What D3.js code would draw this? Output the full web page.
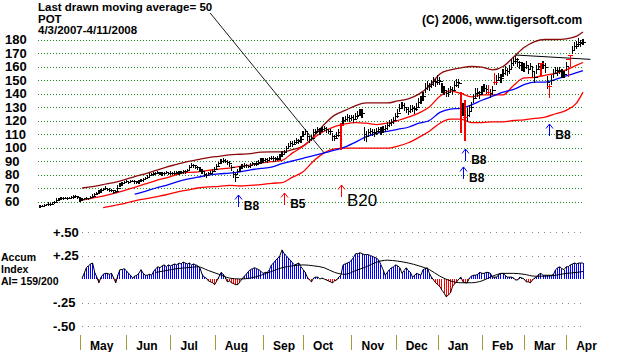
<!DOCTYPE html>
<html>
<head>
<meta charset="utf-8">
<script src="https://cdn.jsdelivr.net/npm/d3@7"></script>
<style>
  body { margin: 0; background: #fff; }
  svg { display: block; font-family: "Liberation Sans", Arial, sans-serif; }
  .b { font-weight: bold; }
</style>
</head>
<body>
<svg id="chart" width="620" height="352"></svg>
<script>
// ---- tick labels / calendar ----
var priceTicks = [180, 170, 160, 150, 140, 130, 120, 110, 100, 90, 80, 70, 60];
var aiTicks = [0.5, 0.25, -0.25, -0.5];
var aiTickLabels = ["+.50", "+.25", "-.25", "-.50"];
var monthNames = ["Jan", "Feb", "Mar", "Apr", "May", "Jun", "Jul", "Aug", "Sep", "Oct", "Nov", "Dec"];
var holidays = ["2007-04-06", "2007-05-28", "2007-07-04", "2007-09-03", "2007-11-22",
                "2007-12-25", "2008-01-01", "2008-01-21", "2008-02-18", "2008-03-21"];
var aiCaption = ["Accum", "Index", "AI= 159/200"];

// ---- daily closes (POT, 4/3/2007 - 4/11/2008) ----
var closes = [
  56, 56.5, 57, 57.5, 58, 58, 59, 59.5, 61, 61.5, 62.5, 62, 62.5, 62, 62.5, 63, 63.5, 64, 63,            // apr
  61, 61.5, 62, 62.5, 62, 63, 64, 65, 66, 67, 68, 69, 70, 69, 68.5, 68, 67, 67.5, 70, 72, 73.5, 74,      // may
  74.5, 74, 74.5, 75, 74.5, 74, 74.5, 75.5, 76, 77, 78, 79.5, 80, 80.5, 81, 81.5, 81, 80.5, 81, 81.5, 81, // jun
  81, 80.5, 81, 81.5, 81, 81.5, 82, 82, 83, 85, 87, 86.5, 85.5, 85, 84, 82, 80, 79.5, 80.5, 81, 82.5,    // jul
  84, 86, 88, 89.5, 90.5, 90, 89, 88, 85, 80, 78, 82, 84.5, 86, 87, 86.5, 86, 87, 88, 87.5, 88, 89, 90, // aug
  90.5, 91, 90.5, 91.5, 92, 91.5, 91, 92, 93, 95, 96, 99, 101, 103, 102.5, 104, 105, 104.5, 106,        // sep
  110, 111.5, 108, 106, 107, 111, 112, 113, 112, 113.5, 114, 113, 112, 111.5, 108, 107, 109, 111, 116, 120, 121, 122, 121.5, // oct
  122, 121, 123, 124, 126, 125, 110, 108, 111, 112, 111, 110.5, 112, 113, 112, 113.5, 114, 116, 118, 118.5, 120, // nov
  123, 125, 129, 131, 130, 128, 127, 128.5, 129, 128, 130, 133, 135, 138, 144, 146, 145, 147, 149, 148,  // dec
  150, 149, 144, 142, 140, 141, 143, 142, 146, 148, 147.5, 140, 128, 122, 124, 127, 130, 136, 140, 141, 139, // jan
  142, 144, 143, 141, 140, 142, 148, 150, 152, 151, 155, 157, 156, 158, 162, 164, 165, 163, 161, 160,    // feb
  159, 161, 158, 160, 156, 152, 158, 160, 162, 161, 159, 148, 145, 150, 155, 157, 156, 157, 155, 154,    // mar
  160, 165, 168, 172, 175, 176, 178, 177, 178                                                          // apr
];
// daily high-low range
var ranges = [
  1.5, 1, 1.5, 1, 2, 1.5, 1, 1.5, 2, 1.5, 1, 1.5, 1, 1.5, 1, 1.5, 2, 1.5, 2,
  2, 1.5, 1, 1.5, 1, 1.5, 2, 1.5, 1.5, 2, 1.5, 2, 2.5, 1.5, 2, 1.5, 2, 1.5, 3, 2, 1.5, 2,
  1.5, 2, 1.5, 1, 2, 1.5, 2, 1.5, 2, 1.5, 2, 2.5, 1.5, 2, 1.5, 2, 1.5, 2, 1.5, 2, 1.5,
  2, 1.5, 2, 1.5, 2, 1.5, 2, 2.5, 2, 3, 3, 2.5, 2, 2.5, 3, 3, 2.5, 3, 2, 2.5, 2,
  3, 3, 2.5, 3, 2.5, 2, 3, 3.5, 4, 5, 6, 4, 3, 2.5, 3, 2.5, 2, 3, 2.5, 2, 3, 2.5, 3,
  2.5, 2, 3, 2.5, 2, 3, 2.5, 3, 3.5, 4, 3, 4, 3.5, 3, 4, 3, 3.5, 3, 4,
  4, 3.5, 5, 4, 3.5, 4, 3, 3.5, 4, 3, 3.5, 4, 3, 3.5, 5, 4, 4.5, 5, 6, 5, 4, 4.5, 4,
  4, 5, 4, 5, 5, 6, 9, 7, 5, 4.5, 4, 5, 4.5, 4, 5, 4.5, 4, 5, 4.5, 5, 5,
  5, 6, 5, 4.5, 5, 4, 5, 4.5, 4, 5, 5.5, 6, 5, 6, 7, 6, 5, 5.5, 6, 5,
  6, 5, 7, 6, 5, 6, 5, 5.5, 6, 5, 6, 7, 9, 12, 10, 8, 7, 6, 7, 6, 5,
  6, 5, 6, 5, 6, 6, 7, 6, 5, 6, 5, 6, 5, 6, 7, 6, 5, 6, 5, 6,
  6, 5, 6, 5, 7, 8, 6, 5, 6, 5, 7, 9, 8, 7, 6, 5, 6, 5, 6, 5,
  6, 7, 6, 5, 6, 5, 6, 5, 4
];
// wide-range days painted red
var redBars = [
  {day: 143, lo: 98, hi: 118}, {day: 200, lo: 111, hi: 141}, {day: 202, lo: 105, hi: 135},
  {day: 213, lo: 139, hi: 146}, {day: 216, lo: 146, hi: 155}, {day: 238, lo: 153, hi: 162},
  {day: 242, lo: 137, hi: 147}, {day: 251, lo: 152, hi: 160}, {day: 252, lo: 160, hi: 168}
];

// ---- bands, sampled every 5 trading days (last = final day) ----
var upperBand = [null, null, null, null,
  70, 71, 72.5, 74, 76, 78.5, 80.5, 83, 85.5, 87.5, 89.5, 91, 92.5, 93.5, 94.5, 95, 95.5, 96.5, 96.7, 96.7,
  98.5, 101, 108, 117, 124, 127.5, 131, 133, 133, 133, 134.5, 136, 139.5, 145.5, 154.5, 157.5, 159, 160,
  159.5, 157.5, 160, 167, 174, 178.5, 180, 180, 180.5, 182.5, 185.5];
var innerBand = [null, null, null, null,
  61, 62.5, 64, 66, 68, 70.5, 73, 75.5, 77.5, 80, 81.5, 82, 83, 84, 84.8, 86, 87, 88.5, 89.5, 90.5,
  96, 101, 107, 112, 115.5, 117.5, 118.5, 118, 117, 118, 120, 122.5, 125.5, 130, 138, 142, 140, 137.5,
  139, 139, 139, 146, 151.5, 152, 153.5, 155, 157.5, 161, 163];
var ma50 = [null, null, null, null, null, null, null, null, null,
  65.5, 67.5, 70, 72, 74.5, 76.5, 78, 79.5, 80.5, 81, 82, 83.5, 84.5, 85.5, 88, 90, 92, 94, 96, 98,
  100.5, 104, 108, 110.5, 112, 113.5, 115, 118, 120, 126, 128.5, 129, 131.5, 135, 138, 141, 143, 146.5,
  148.5, 148.5, 150.5, 153, 155.5, 157];
var lowerBand = [null, null, null, null, null, null,
  55.5, 57, 58.5, 60.5, 62, 63.5, 65, 67, 68.5, 70, 70.8, 71.2, 72, 71.5, 72, 72.5, 73.5, 74, 78, 82,
  90, 96, 99, 99.5, 99.5, 99.5, 99.5, 99.5, 101, 103.5, 107.5, 112, 118, 121, 121, 118.5, 118.5, 119,
  119, 120, 120.5, 121.5, 122.5, 125, 127.5, 133, 141];
var trendLine = [[226, 168.5], [261.5, 165.3]];
var pointerDay = 135;   // 50-day average the caption points to

// ---- accumulation index (daily, from day 20) ----
var aiStart = 20;
var accumIndex = [
  0.01, 0.06, 0.12, 0.14, 0.16, 0.17, 0.07, 0.02, -0.04, 0.02, 0.05, 0.06, 0.06, 0.05, 0.06, 0.01, -0.04, 0.04, 0.1, 0.1, 0.11,
  0.09, 0.06, 0.04, 0.01, 0.03, 0.04, 0.06, 0.1, 0.06, 0.04, 0.04, 0.05, 0.04, 0.08, 0.11, 0.13, 0.12, 0.14, 0.15, 0.13, 0.15,
  0.14, 0.15, 0.16, 0.15, 0.17, 0.16, 0.18, 0.17, 0.16, 0.17, 0.15, 0.16, 0.15, 0.14, 0.12, 0.05, 0.02, 0.01, -0.02, -0.03, -0.04,
  -0.06, -0.02, 0.02, 0.07, 0.05, 0.02, -0.03, -0.02, -0.04, -0.05, -0.06, -0.06, -0.03, 0.0, 0.03, 0.05, 0.08, 0.1, 0.11, 0.12, 0.11, 0.1, 0.08,
  0.06, 0.07, 0.07, 0.1, 0.15, 0.17, 0.2, 0.22, 0.25, 0.31, 0.27, 0.25, 0.22, 0.2, 0.17, 0.15, 0.16, 0.17, 0.13,
  0.1, 0.07, 0.02, -0.01, -0.03, 0.01, 0.02, 0.02, 0.0, 0.01, 0.0, -0.01, -0.02, -0.03, -0.04, -0.02, -0.01, 0.02, 0.04, 0.15, 0.16, 0.17, 0.18,
  0.2, 0.23, 0.27, 0.27, 0.28, 0.27, 0.26, 0.26, 0.26, 0.25, 0.24, 0.23, 0.22, 0.2, 0.15, 0.1, 0.04, 0.07, 0.1, 0.12, 0.13,
  0.15, 0.14, 0.12, 0.06, 0.09, 0.12, 0.09, 0.07, 0.02, 0.04, 0.06, 0.05, 0.04, 0.1, 0.11, 0.12, 0.06, 0.02, -0.01, -0.04,
  -0.06, -0.08, -0.12, -0.15, -0.19, -0.17, -0.15, -0.08, -0.05, -0.03, 0.0, 0.02, -0.03, -0.04, -0.04, 0.01, 0.03, 0.04, 0.04, 0.05, 0.07,
  0.06, 0.06, 0.07, 0.07, 0.06, 0.02, 0.02, 0.02, 0.05, 0.06, 0.06, 0.04, 0.02, 0.02, 0.02, 0.01, -0.01, -0.01, 0.02, 0.01,
  0.0, -0.03, -0.03, -0.04, -0.01, 0.01, 0.02, 0.05, 0.06, 0.04, 0.04, 0.04, 0.04, 0.04, 0.05, 0.1, 0.12, 0.13, 0.11, 0.1,
  0.13, 0.13, 0.15, 0.16, 0.17, 0.16, 0.17, 0.17, 0.17
];
var aiAverage = [null, null, null, null, null, null, null, null, null, null, null,
  0.07, 0.09, 0.11, 0.12, 0.13, 0.09, 0.05, 0.01, 0.0, 0.01, 0.04, 0.08, 0.12, 0.14, 0.15, 0.14, 0.12,
  0.07, 0.05, 0.09, 0.13, 0.18, 0.2, 0.19, 0.17, 0.14, 0.1, 0.03, -0.02, -0.04, -0.04, -0.02, 0.03,
  0.06, 0.06, 0.05, 0.03, 0.03, 0.04, 0.06, 0.07, 0.08];

// ---- buy signals ----
var signals = [
  {day: 94,  price: 64.8,  label: "B8",  color: "#0000ff", big: false},
  {day: 116, price: 66.3,  label: "B5",  color: "#ff0000", big: false},
  {day: 143, price: 72.2,  label: "B20", color: "#ff0000", big: true},
  {day: 202, price: 98.9,  label: "B8",  color: "#0000ff", big: false},
  {day: 201, price: 85.6,  label: "B8",  color: "#0000ff", big: false},
  {day: 242, price: 117.4, label: "B8",  color: "#0000ff", big: false}
];

var svg = d3.select("#chart");
var fmt = d3.timeFormat("%Y-%m-%d");
var tradingDays = d3.timeDay.range(new Date(2007, 3, 3), new Date(2008, 3, 12))
  .filter(function (d) { var w = d.getDay(); return w > 0 && w < 6 && holidays.indexOf(fmt(d)) < 0; });

var x = d3.scaleLinear().domain([0, closes.length - 1]).range([40, 583]);
var y = d3.scaleLinear().domain([60, 180]).range([201.5, 39.5]);
var yAI = d3.scaleLinear().domain([-0.5, 0.5]).range([326, 232]);

var sampleDays = d3.range(0, closes.length - 3, 5).concat([closes.length - 1]);

function bandLine(values) {
  return d3.line()
    .defined(function (d, i) { return values[i] != null; })
    .x(function (d, i) { return x(sampleDays[i]); })
    .y(function (d, i) { return y(values[i]); })
    .curve(d3.curveMonotoneX)(values);
}

// ---- header text ----
var cap = svg.append("text").attr("class", "b").attr("x", 38).attr("y", 11)
  .attr("font-size", 11.5).text("Last drawn moving average= 50");
svg.append("text").attr("class", "b").attr("x", 38).attr("y", 22.5).attr("font-size", 11.5).text("POT");
svg.append("text").attr("class", "b").attr("x", 38).attr("y", 34).attr("font-size", 11.5).text("4/3/2007-4/11/2008");
svg.append("text").attr("class", "b").attr("x", 422).attr("y", 24).attr("font-size", 12).text("(C) 2006, www.tigersoft.com");

// ---- price grid ----
svg.append("g").selectAll("line").data(priceTicks).enter().append("line")
  .attr("x1", 38).attr("x2", 583)
  .attr("y1", function (d) { return Math.round(y(d)) + 0.5; })
  .attr("y2", function (d) { return Math.round(y(d)) + 0.5; })
  .attr("stroke", "#1a8a1a").attr("stroke-dasharray", "1,2");
svg.append("g").selectAll("text").data(priceTicks).enter().append("text")
  .attr("class", "b").attr("font-size", 13)
  .attr("x", 5).attr("y", function (d) { return y(d); }).attr("dy", "0.36em")
  .text(function (d) { return d; });

// ---- bands ----
svg.append("path").attr("d", bandLine(upperBand)).attr("fill", "none").attr("stroke", "#8b0a0a").attr("stroke-width", 1.3);
svg.append("path").attr("d", bandLine(innerBand)).attr("fill", "none").attr("stroke", "#ff0000").attr("stroke-width", 1.3);
svg.append("path").attr("d", bandLine(lowerBand)).attr("fill", "none").attr("stroke", "#ff0000").attr("stroke-width", 1.3);
svg.append("path").attr("d", bandLine(ma50)).attr("fill", "none").attr("stroke", "#0000ff").attr("stroke-width", 1.3);

svg.append("line")
  .attr("x1", x(trendLine[0][0])).attr("y1", y(trendLine[0][1]))
  .attr("x2", x(trendLine[1][0])).attr("y2", y(trendLine[1][1]))
  .attr("stroke", "#000");

// ---- price bars ----
var redDays = redBars.map(function (r) { return r.day; });
var priceData = closes.map(function (c, i) {
  return {day: i, close: c, lo: c - ranges[i] / 2, hi: c + ranges[i] / 2};
}).filter(function (d) { return redDays.indexOf(d.day) < 0; });

var barG = svg.append("g").attr("shape-rendering", "crispEdges");
barG.selectAll(".hl").data(priceData).enter().append("line")
  .attr("x1", function (d) { return x(d.day); }).attr("x2", function (d) { return x(d.day); })
  .attr("y1", function (d) { return y(d.hi) - 0.5; }).attr("y2", function (d) { return y(d.lo) + 0.5; })
  .attr("stroke", "#000").attr("stroke-width", 1.2);
barG.selectAll(".cl").data(priceData).enter().append("line")
  .attr("x1", function (d) { return x(d.day); }).attr("x2", function (d) { return x(d.day) + 3; })
  .attr("y1", function (d) { return y(d.close); }).attr("y2", function (d) { return y(d.close); })
  .attr("stroke", "#000");
barG.selectAll(".rb").data(redBars).enter().append("line")
  .attr("x1", function (d) { return x(d.day); }).attr("x2", function (d) { return x(d.day); })
  .attr("y1", function (d) { return y(d.hi); }).attr("y2", function (d) { return y(d.lo); })
  .attr("stroke", "#ff0000").attr("stroke-width", 1.5);
barG.selectAll(".rc").data(redBars).enter().append("line")
  .attr("x1", function (d) { return x(d.day) - 2; }).attr("x2", function (d) { return x(d.day) + 3; })
  .attr("y1", function (d) { return y(closes[d.day]); }).attr("y2", function (d) { return y(closes[d.day]); })
  .attr("stroke", "#ff0000");

// caption pointer to the 50-day average
var capEnd = 38 + cap.node().getComputedTextLength();
svg.append("line")
  .attr("x1", capEnd - 2).attr("y1", 13)
  .attr("x2", x(pointerDay)).attr("y2", y(ma50[sampleDays.indexOf(pointerDay)]))
  .attr("stroke", "#000").attr("stroke-width", 0.9);

// ---- signal arrows ----
var sig = svg.append("g").selectAll("g").data(signals).enter().append("g");
sig.append("path")
  .attr("d", function (d) {
    var sx = Math.round(x(d.day)) + 0.5, sy = y(d.price);
    return "M" + sx + "," + (sy + 12) + "V" + sy + "M" + (sx - 3.5) + "," + (sy + 4.5) + "L" + sx + "," + sy + "L" + (sx + 3.5) + "," + (sy + 4.5);
  })
  .attr("fill", "none").attr("stroke", function (d) { return d.color; });
sig.append("text")
  .attr("class", function (d) { return d.big ? "" : "b"; })
  .attr("font-size", function (d) { return d.big ? 17 : 12; })
  .attr("x", function (d) { return x(d.day) + 6; })
  .attr("y", function (d) { return y(d.price) + (d.big ? 21 : 15); })
  .text(function (d) { return d.label; });

// ---- accumulation index panel ----
svg.append("g").selectAll("line").data(aiTicks).enter().append("line")
  .attr("x1", 82).attr("x2", 583)
  .attr("y1", function (d) { return Math.round(yAI(d)) + 0.5; })
  .attr("y2", function (d) { return Math.round(yAI(d)) + 0.5; })
  .attr("stroke", "#a07890").attr("stroke-dasharray", "1,5");
svg.append("g").selectAll("text").data(aiTicks).enter().append("text")
  .attr("class", "b").attr("font-size", 13).attr("x", 53)
  .attr("y", function (d) { return yAI(d); }).attr("dy", "0.36em")
  .text(function (d, i) { return aiTickLabels[i]; });

// three-line caption
svg.append("g").selectAll("text").data(aiCaption).enter().append("text")
  .attr("class", "b").attr("font-size", 10.5).attr("x", 1)
  .attr("y", function (d, i) { return 261 + i * 12.2; })
  .text(function (d) { return d; });

var aiData = accumIndex.map(function (v, i) { return {day: aiStart + i, v: v}; });
svg.append("g").attr("shape-rendering", "crispEdges")
  .selectAll("line").data(aiData).enter().append("line")
  .attr("x1", function (d) { return x(d.day); }).attr("x2", function (d) { return x(d.day); })
  .attr("y1", yAI(0)).attr("y2", function (d) { return yAI(d.v); })
  .attr("stroke", function (d) { return d.v >= 0 ? "#0000ff" : "#ff0000"; });
svg.append("path")
  .attr("d", d3.line().x(function (d) { return x(d.day); }).y(function (d) { return yAI(d.v); })(aiData))
  .attr("fill", "none").attr("stroke", "#000").attr("stroke-width", 1);
svg.append("path")
  .attr("d", d3.line()
    .defined(function (d, i) { return aiAverage[i] != null; })
    .x(function (d, i) { return x(sampleDays[i]); })
    .y(function (d, i) { return yAI(aiAverage[i]); })
    .curve(d3.curveMonotoneX)(aiAverage))
  .attr("fill", "none").attr("stroke", "#000").attr("stroke-width", 1);

// ---- month axis ----
var monthStarts = [];
tradingDays.forEach(function (d, i) {
  if (i > 0 && d.getMonth() != tradingDays[i - 1].getMonth()) monthStarts.push({day: i, name: monthNames[d.getMonth()]});
});
var mG = svg.append("g");
mG.selectAll("line").data(monthStarts).enter().append("line")
  .attr("x1", function (d) { return Math.round(x(d.day)) + 0.5; })
  .attr("x2", function (d) { return Math.round(x(d.day)) + 0.5; })
  .attr("y1", 335).attr("y2", 350)
  .attr("stroke", "#a39a3a");
mG.selectAll("text").data(monthStarts).enter().append("text")
  .attr("class", "b").attr("font-size", 12)
  .attr("x", function (d) { return x(d.day) + 10; }).attr("y", 349.5)
  .text(function (d) { return d.name; });
</script>
</body>
</html>
